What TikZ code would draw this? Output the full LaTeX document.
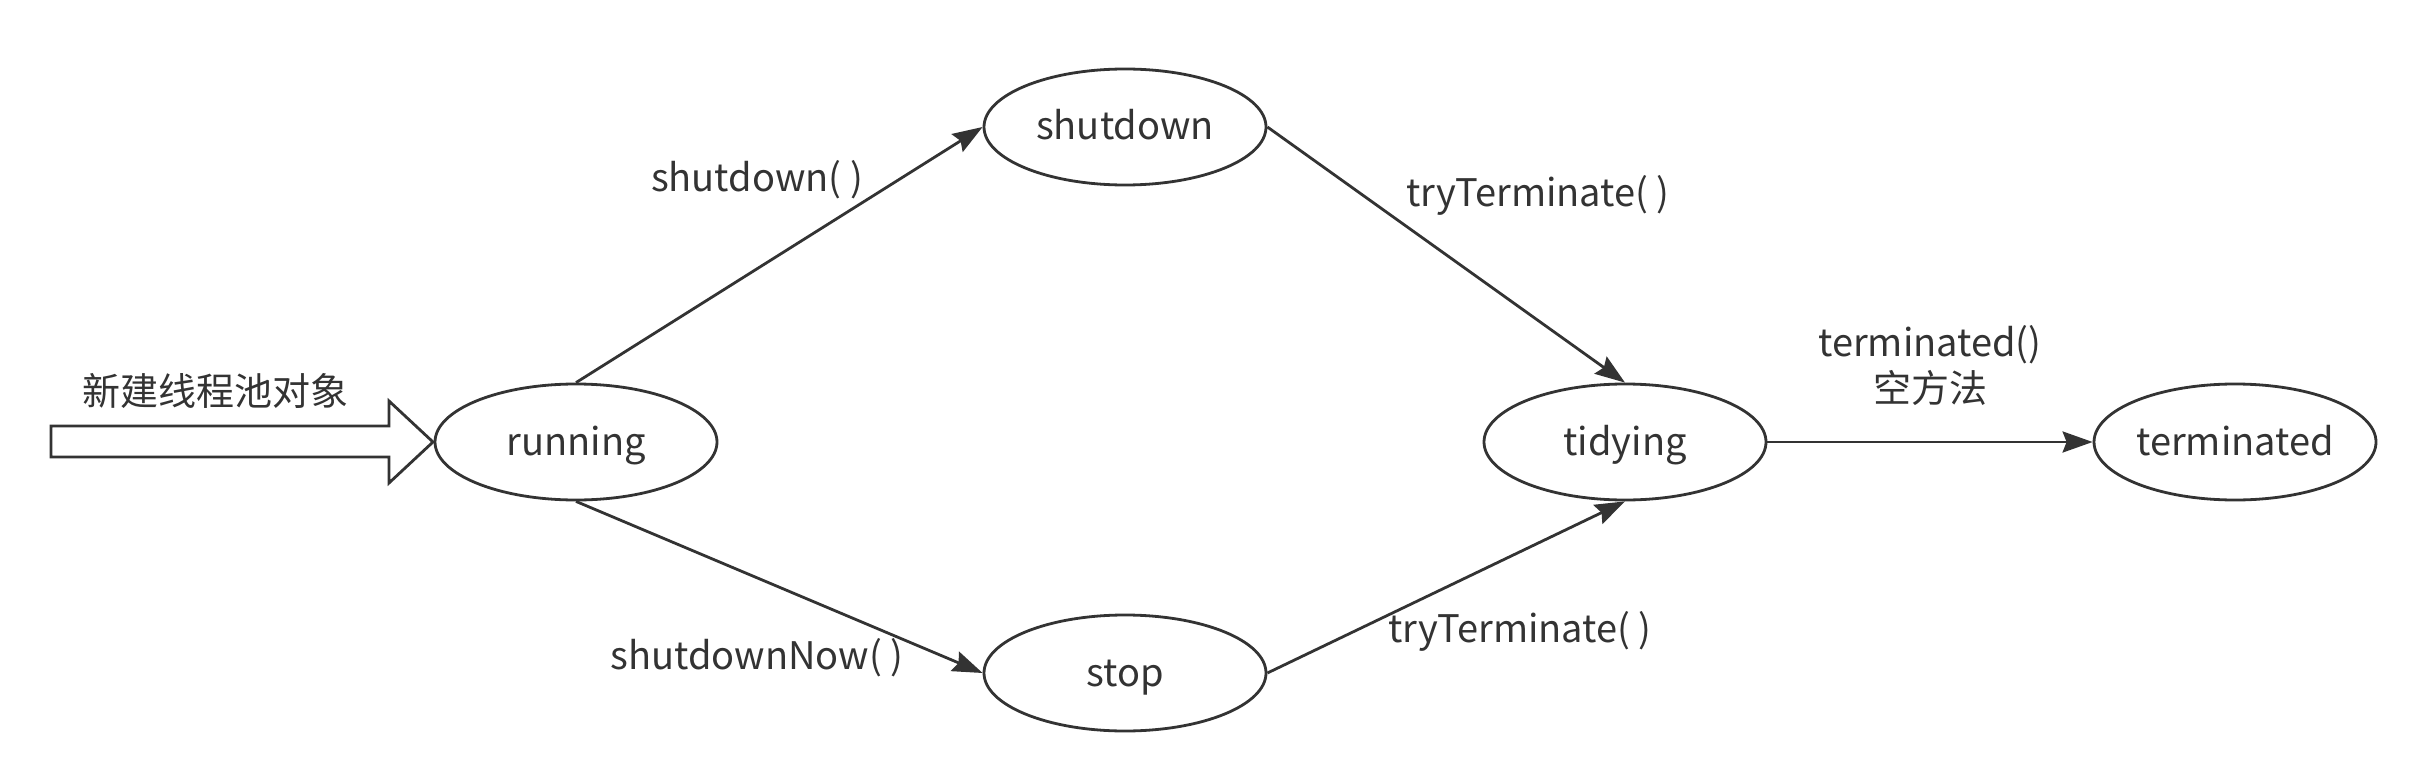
\documentclass[tikz,border=0pt]{standalone}
\usepackage{fontspec}
\setmainfont{Noto Sans CJK SC}
\usetikzlibrary{shapes.geometric,arrows.meta}
\definecolor{ink}{HTML}{333333}
\tikzset{
  state/.style={ellipse,draw=ink,line width=2.8pt,minimum width=282pt,minimum height=116pt,inner sep=0pt,text=ink,text height=34pt,text depth=8pt,font=\fontsize{38}{44}\selectfont},
  conn/.style={draw=ink,line width=2.8pt,-{Stealth[length=30pt,width=21pt,inset=4pt]}},
  lbl/.style={text=ink,font=\fontsize{38}{46}\selectfont,inner sep=0pt,align=center}
}
\begin{document}
\begin{tikzpicture}[x=1pt,y=-1pt]
\useasboundingbox (0,0) rectangle (2412,778);
\node[state] (running) at (576,442) {running};
\node[state] (shutdown) at (1125,127) {shutdown};
\node[state] (stop) at (1125,673) {stop};
\node[state] (tidying) at (1625,442) {tidying};
\node[state] (terminated) at (2235,442) {terminated};
\draw[conn] (running.north) -- (shutdown.west);
\draw[conn] (running.south) -- (stop.west);
\draw[conn] (shutdown.east) -- (tidying.north);
\draw[conn] (stop.east) -- (tidying.south);
\draw[conn] (tidying.east) -- (terminated.west);
\draw[draw=ink,line width=2.8pt,fill=white,line join=miter] (51,426) -- (389,426) -- (389,401) -- (433,442) -- (389,483) -- (389,457) -- (51,457) -- cycle;
\node[lbl] (newpool) at (215,391) {新建线程池对象};
\node[lbl] (l1) at (757,180) {shutdown( )};
\node[lbl] (l2) at (757,658) {shutdownNow( )};
\node[lbl] (l3) at (1538,195) {tryTerminate( )};
\node[lbl] (l4) at (1520,631) {tryTerminate( )};
\node[lbl] (l5) at (1930,366) {terminated()\\空方法};
\end{tikzpicture}
\end{document}
